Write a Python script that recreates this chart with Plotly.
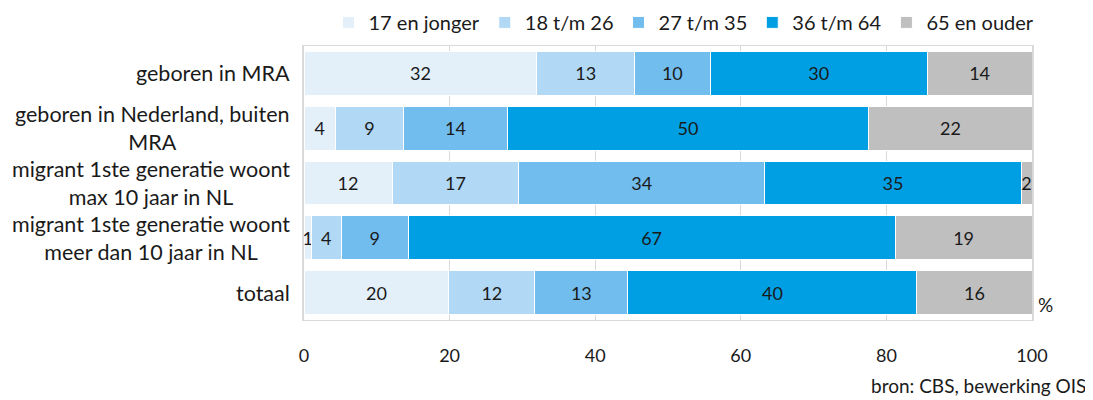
import plotly.graph_objects as go

categories = [
    "geboren in MRA",
    "geboren in Nederland, buiten<br>MRA",
    "migrant 1ste generatie woont<br>max 10 jaar in NL",
    "migrant 1ste generatie woont<br>meer dan 10 jaar in NL",
    "totaal",
]
series_names = ["17 en jonger", "18 t/m 26", "27 t/m 35", "36 t/m 64", "65 en ouder"]
v_17_jonger = [32.0, 4.3, 12.1, 1.0, 19.9]
v_18_26 = [13.4, 9.4, 17.4, 4.1, 11.8]
v_27_35 = [10.4, 14.2, 33.8, 9.2, 12.8]
v_36_64 = [29.8, 49.7, 35.2, 66.9, 39.7]
v_65_ouder = [14.4, 22.4, 1.5, 18.8, 15.8]
colors = ["#E3F0FA", "#B1D8F4", "#71BDEE", "#009FE3", "#BFBFBF"]
x_ticks = [0, 20, 40, 60, 80, 100]

FONT = "Lato"
TXT = "#1a1a1a"
series = [v_17_jonger, v_18_26, v_27_35, v_36_64, v_65_ouder]

fig = go.Figure()
for name, vals, col in zip(series_names, series, colors):
    fig.add_trace(go.Bar(
        y=categories, x=vals, name=name, orientation="h",
        marker=dict(color=col, line=dict(color="white", width=1)),
        texttemplate="%{x:.0f}", textposition="inside", insidetextanchor="middle",
        textfont=dict(color=TXT, size=18, family=FONT),
        constraintext="none",
    ))

annotations = []
for c in categories:
    annotations.append(dict(
        xref="paper", x=0, xshift=-12, yref="y", y=c,
        text=c, showarrow=False, xanchor="right", align="center",
        font=dict(size=21.5, color=TXT, family=FONT),
    ))
annotations.append(dict(xref="paper", x=1, xshift=4, yref="paper", y=0, yshift=2,
                        text="%", showarrow=False, xanchor="left", yanchor="bottom",
                        font=dict(size=19, color=TXT, family=FONT)))
annotations.append(dict(xref="paper", x=1, xshift=56, yref="paper", y=0, yshift=-52,
                        text="bron: CBS, bewerking OIS", showarrow=False,
                        xanchor="right", yanchor="top",
                        font=dict(size=19, color=TXT, family=FONT)))

# page body has an 8px margin: compensate in size and margins
fig.update_layout(
    barmode="stack", bargap=0.2,
    width=1085, height=392,
    margin=dict(l=296, r=61, t=38, b=80, autoexpand=False),
    paper_bgcolor="white", plot_bgcolor="white",
    font=dict(family=FONT, size=18, color=TXT),
    uniformtext=dict(mode="show", minsize=18),
    legend=dict(orientation="h", x=0.522, xanchor="center", y=1.015, yanchor="bottom",
                font=dict(size=20, family=FONT, color=TXT), traceorder="normal",
                itemwidth=30, itemclick=False),
    annotations=annotations,
    showlegend=True,
)
fig.update_xaxes(range=[0, 100], tickvals=x_ticks, showgrid=True, gridcolor="#D9D9D9",
                 gridwidth=1, showline=True, linecolor="#D9D9D9", linewidth=1, mirror=True,
                 zeroline=False, ticks="", ticklabelstandoff=19,
                 tickfont=dict(size=18, family=FONT, color=TXT))
fig.update_yaxes(autorange="reversed", showticklabels=False, showline=True,
                 linecolor="#D9D9D9", linewidth=2, mirror=True, showgrid=False, ticks="")

fig.write_html("out.html")
